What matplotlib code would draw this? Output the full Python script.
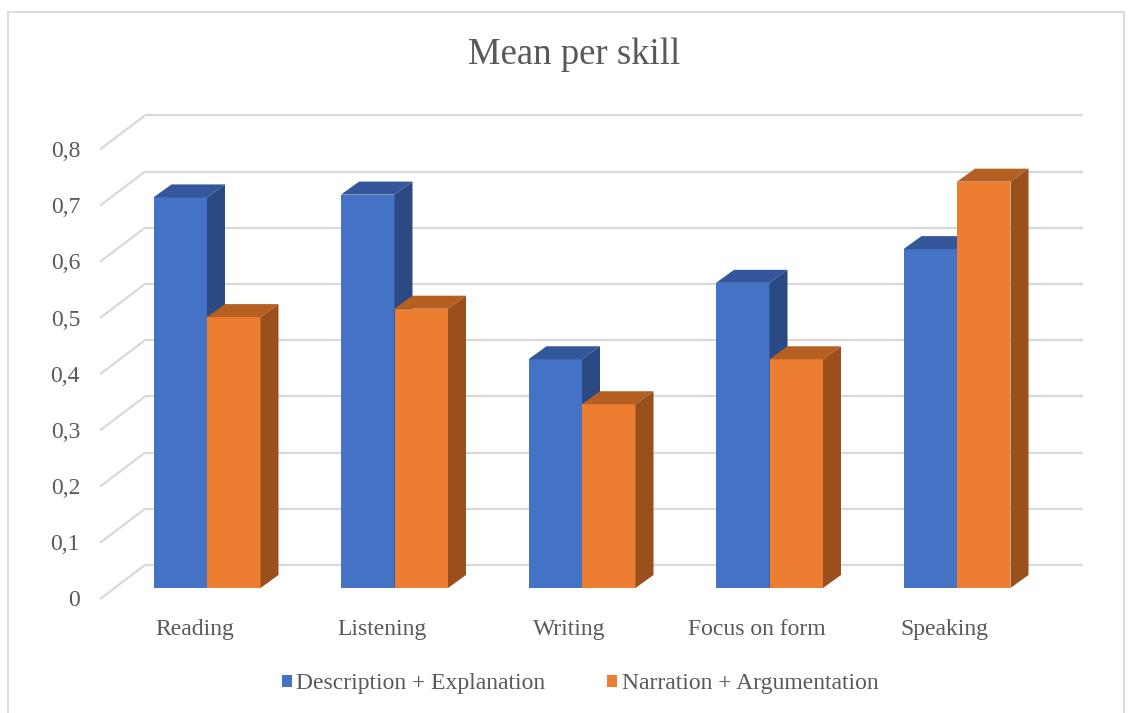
import matplotlib
matplotlib.use("Agg")
import matplotlib.pyplot as plt
from matplotlib.patches import Polygon, Rectangle, Patch

# ---- data ----
skills = ["Reading", "Listening", "Writing", "Focus on form", "Speaking"]
desc_expl = [0.695, 0.70, 0.407, 0.543, 0.603]
narr_arg = [0.482, 0.497, 0.327, 0.407, 0.723]
series_names = ["Description + Explanation", "Narration + Argumentation"]
y_ticks = [0, 0.1, 0.2, 0.3, 0.4, 0.5, 0.6, 0.7, 0.8]
y_tick_labels = ["0", "0,1", "0,2", "0,3", "0,4", "0,5", "0,6", "0,7", "0,8"]

# ---- styling ----
W, H, DPI = 1130, 713, 100
PX_X = 187.5          # pixels per category step
PX_Y = 562.0          # pixels per unit value
X0_PX = 207.0         # pixel column of the first category centre
Y0_PX = 588.0         # pixel row (from top) of the bar baseline
sx = 1.0 / PX_X
sy = 1.0 / PX_Y

bar_w = 53.5 * sx
depth_dx, depth_dy = 18 * sx, 13 * sy       # bar depth (oblique)
wall_dy = 23 * sy                           # back wall offset
front_dy = -11 * sy                         # front floor edge offset

text_col = "#595959"
grid_col = "#d9d9d9"
faces = {
    0: ("#4472C4", "#33579A", "#2B4A83"),
    1: ("#ED7D31", "#B65F22", "#9A4F1C"),
}

plt.rcParams["font.family"] = ["Liberation Serif", "DejaVu Serif"]

fig = plt.figure(figsize=(W / DPI, H / DPI), dpi=DPI)
ax = fig.add_axes([0, 0, 1, 1])
ax.set_xlim(-X0_PX * sx, (W - X0_PX) * sx)
ax.set_ylim(-(H - Y0_PX) * sy, Y0_PX * sy)
ax.axis("off")

# chart frame
fig.patches.append(Rectangle((8 / W, -0.01), (1124 - 8) / W, (H - 12) / H + 0.01,
                             transform=fig.transFigure, fill=False,
                             edgecolor=grid_col, linewidth=1.3))

# gridlines: back wall + oblique side-wall lines
wall_left = (145 - X0_PX) * sx
wall_right = (1083 - X0_PX) * sx
floor_left = (100 - X0_PX) * sx
for v in y_ticks:
    ax.plot([wall_left, wall_right], [v + wall_dy, v + wall_dy],
            color=grid_col, lw=1.6, zorder=1, solid_capstyle="butt")
    ax.plot([floor_left, wall_left], [v + front_dy, v + wall_dy],
            color=grid_col, lw=1.6, zorder=1, solid_capstyle="butt")

# tick labels
for v, lab in zip(y_ticks, y_tick_labels):
    ax.text((80 - X0_PX) * sx, v + front_dy - 7.5 * sy, lab, ha="right",
            va="baseline", fontsize=17, color=text_col)

# bars (front face, top face, side face)
z = 2
for i, name in enumerate(skills):
    for s, vals in enumerate([desc_expl, narr_arg]):
        v = vals[i]
        x0 = i - bar_w if s == 0 else i
        x1 = x0 + bar_w
        front, top, side = faces[s]
        ax.bar(x0, v, width=bar_w, align="edge", color=front,
               linewidth=0, zorder=z)
        ax.add_patch(Polygon([(x0, v), (x1, v), (x1 + depth_dx, v + depth_dy),
                              (x0 + depth_dx, v + depth_dy)],
                             closed=True, facecolor=top, linewidth=0, zorder=z))
        ax.add_patch(Polygon([(x1, 0), (x1, v), (x1 + depth_dx, v + depth_dy),
                              (x1 + depth_dx, depth_dy)],
                             closed=True, facecolor=side, linewidth=0, zorder=z))
        z += 1
    ax.text(i - 12.5 * sx, -47 * sy, name, ha="center", va="baseline",
            fontsize=17, color=text_col)

# title
fig.text(574.5 / W, 1 - 55 / H, "Mean per skill", ha="center", va="center",
         fontsize=26.5, color=text_col)

# legend
handles = [Patch(facecolor=faces[0][0], edgecolor="none"),
           Patch(facecolor=faces[1][0], edgecolor="none")]
fig.legend(handles, series_names, loc="center", bbox_to_anchor=(580 / W, 1 - 684 / H),
           ncol=2, frameon=False, fontsize=17, handlelength=0.42, handleheight=0.42,
           handletextpad=0.2, columnspacing=2.6, labelcolor=text_col)

fig.savefig("out.png", dpi=DPI)
